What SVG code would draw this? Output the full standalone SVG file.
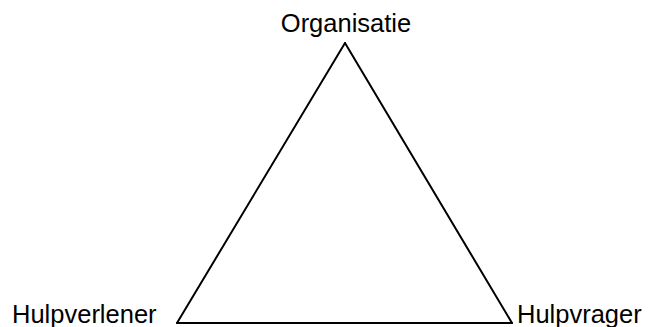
<svg xmlns="http://www.w3.org/2000/svg" width="649" height="327" viewBox="0 0 649 327">
<style>
text{font-family:"Liberation Sans",Arial,sans-serif;font-size:25.5px;fill:#000}
.edge{stroke:#000;stroke-width:2;fill:none;stroke-linecap:round}
</style>
<rect width="649" height="327" fill="#fff"/>
<g id="connectors">
<line class="edge" x1="345" y1="43" x2="177" y2="323"/>
<line class="edge" x1="345" y1="43" x2="512" y2="323"/>
<line class="edge" x1="177" y1="323" x2="512" y2="323"/>
</g>
<g id="organisatie"><text x="346" y="32" text-anchor="middle">Organisatie</text></g>
<g id="hulpverlener"><text x="12" y="323">Hulpverlener</text></g>
<g id="hulpvrager"><text x="517" y="323">Hulpvrager</text></g>
</svg>
